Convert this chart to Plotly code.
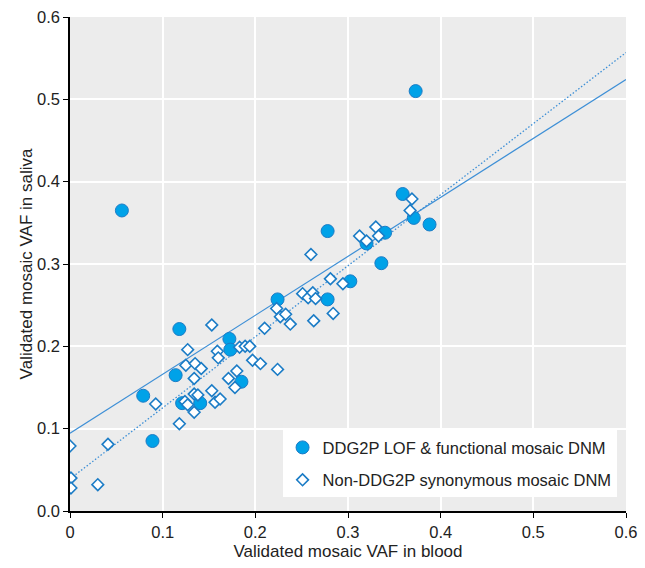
import numpy as np
import plotly.graph_objects as go

# DDG2P LOF & functional mosaic DNM (blood VAF, saliva VAF)
ddg2p_blood = [0.056, 0.373, 0.278, 0.359, 0.371, 0.388, 0.340, 0.320, 0.336, 0.3025,
               0.224, 0.278, 0.118, 0.172, 0.173, 0.114, 0.185, 0.079, 0.121, 0.1405, 0.089]
ddg2p_saliva = [0.365, 0.510, 0.340, 0.385, 0.356, 0.348, 0.338, 0.325, 0.301, 0.279,
                0.257, 0.257, 0.221, 0.209, 0.196, 0.165, 0.157, 0.140, 0.131, 0.131, 0.085]

# Non-DDG2P synonymous mosaic DNM
syn_blood = [0.000, 0.041, 0.001, 0.001, 0.030, 0.0925, 0.118, 0.127, 0.125, 0.135,
             0.1416, 0.134, 0.124, 0.127, 0.134, 0.138, 0.134, 0.153, 0.159, 0.160,
             0.153, 0.1565, 0.162, 0.171, 0.180, 0.178, 0.183, 0.189, 0.194, 0.197,
             0.2055, 0.210, 0.224, 0.223, 0.227, 0.2327, 0.2377, 0.251, 0.257, 0.262,
             0.265, 0.263, 0.281, 0.284, 0.2945, 0.260, 0.369, 0.367, 0.3125, 0.320,
             0.330, 0.333]
syn_saliva = [0.079, 0.081, 0.040, 0.028, 0.032, 0.130, 0.106, 0.196, 0.177, 0.179,
              0.173, 0.161, 0.133, 0.129, 0.142, 0.141, 0.120, 0.226, 0.194, 0.186,
              0.146, 0.132, 0.136, 0.161, 0.170, 0.150, 0.199, 0.200, 0.200, 0.183,
              0.179, 0.222, 0.172, 0.246, 0.236, 0.239, 0.227, 0.264, 0.259, 0.265,
              0.258, 0.231, 0.282, 0.240, 0.276, 0.3115, 0.379, 0.365, 0.334, 0.328,
              0.345, 0.334]

# regression fits (intercept, slope)
ddg2p_fit = (0.0945, 0.716)
syn_fit = (0.039, 0.863)

x_ticks = [0, 0.1, 0.2, 0.3, 0.4, 0.5, 0.6]
x_ticktext = ["0", "0.1", "0.2", "0.3", "0.4", "0.5", "0.6"]
y_ticks = [0, 0.1, 0.2, 0.3, 0.4, 0.5, 0.6]
y_ticktext = ["0.0", "0.1", "0.2", "0.3", "0.4", "0.5", "0.6"]

LINE_BLUE = "#3d8fd6"
FILL_BLUE = "#00a2e8"
EDGE_BLUE = "#1b7cc6"

fit_x = np.array([0, 0.6])

fig = go.Figure()

fig.add_trace(
    go.Scatter(
        x=fit_x,
        y=ddg2p_fit[0] + ddg2p_fit[1] * fit_x,
        mode="lines",
        line=dict(color=LINE_BLUE, width=1.2),
        showlegend=False,
    )
)
fig.add_trace(
    go.Scatter(
        x=fit_x,
        y=syn_fit[0] + syn_fit[1] * fit_x,
        mode="lines",
        line=dict(color=LINE_BLUE, width=1.3, dash="1.5px,2px"),
        showlegend=False,
    )
)

fig.add_trace(
    go.Scatter(
        x=ddg2p_blood,
        y=ddg2p_saliva,
        mode="markers",
        marker=dict(symbol="circle", size=13, color=FILL_BLUE, line=dict(color=EDGE_BLUE, width=1)),
        name="DDG2P LOF & functional mosaic DNM",
        legendgroup="a",
    )
)
fig.add_trace(
    go.Scatter(
        x=syn_blood,
        y=syn_saliva,
        mode="markers",
        marker=dict(symbol="diamond", size=9, color="white", line=dict(color=EDGE_BLUE, width=1.6)),
        name="Non-DDG2P synonymous mosaic DNM",
        legendgroup="b",
    )
)

axis_common = dict(
    range=[0, 0.6],
    showgrid=True,
    gridcolor="white",
    gridwidth=1.5,
    zeroline=False,
    showline=True,
    linecolor="black",
    linewidth=1.5,
    ticks="outside",
    ticklen=5,
    tickcolor="black",
    ticklabeloverflow="allow",
    tickfont=dict(size=16.5, color="#222"),
)

fig.update_layout(
    width=645,
    height=568,
    paper_bgcolor="white",
    plot_bgcolor="#ececec",
    font=dict(family="Liberation Sans, Arial, sans-serif", color="#222"),
    margin=dict(l=70, r=13, t=8, b=57),
    xaxis=dict(
        axis_common,
        tickvals=x_ticks,
        ticktext=x_ticktext,
        title=dict(text="Validated mosaic VAF in blood", font=dict(size=17), standoff=6),
    ),
    yaxis=dict(
        axis_common,
        tickvals=y_ticks,
        ticktext=y_ticktext,
        title=dict(text="Validated mosaic VAF in saliva", font=dict(size=17), standoff=0),
    ),
    legend=dict(
        x=0.983,
        y=0.028,
        xanchor="right",
        yanchor="bottom",
        bgcolor="white",
        font=dict(size=16.5, color="#222"),
        traceorder="grouped",
        tracegroupgap=8,
        itemwidth=30,
    ),
)

# the page body has a default margin; drop it so the figure sits at the corner
fig.write_html(
    "out.html",
    config={"displayModeBar": False},
    post_script="document.body.style.margin='0';",
)
